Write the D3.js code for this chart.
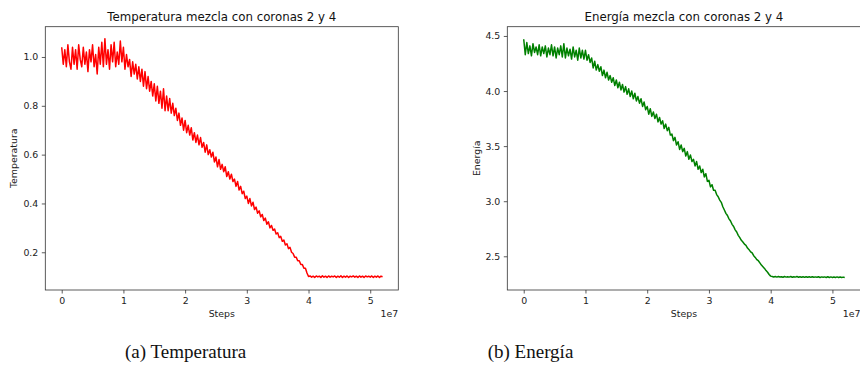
<!DOCTYPE html>
<html>
<head>
<meta charset="utf-8">
<script src="https://cdn.jsdelivr.net/npm/d3@7"></script>
<style>
  body { margin: 0; background: #fff; }
  svg { display: block; font-family: "DejaVu Sans", sans-serif; }
</style>
</head>
<body>
<svg id="fig" width="860" height="367"></svg>
<script>
// sample spacing of the simulation output (steps)
var sampleStep = 2.5e5;

var xTicks = [0, 1e7, 2e7, 3e7, 4e7, 5e7];
var xTickLabels = ["0", "1", "2", "3", "4", "5"];

var tempTicks = [0.2, 0.4, 0.6, 0.8, 1.0];
var energyTicks = [2.5, 3.0, 3.5, 4.0, 4.5];

var temperatura = [
  1.04, 0.97, 1.03, 0.96, 1.05, 0.98, 0.95, 1.04, 0.97, 1.03,
  0.95, 1.05, 0.99, 0.96, 1.04, 0.97, 1.02, 0.94, 1.03, 0.98,
  1.05, 0.96, 1.01, 0.93, 1.04, 0.97, 1.06, 0.96, 1.075, 0.97,
  1.03, 0.95, 1.05, 0.98, 1.06, 0.96, 1.02, 0.97, 1.065, 0.98,
  1.04, 0.95, 1.01, 0.96, 0.99, 0.92, 0.98, 0.93, 0.97, 0.91,
  0.96, 0.90, 0.95, 0.88, 0.94, 0.87, 0.92, 0.86, 0.90, 0.84,
  0.89, 0.82, 0.88, 0.81, 0.86, 0.79, 0.87, 0.78, 0.84, 0.78,
  0.83, 0.77, 0.81, 0.76, 0.79, 0.74, 0.77, 0.72, 0.75, 0.70,
  0.74, 0.69, 0.72, 0.68, 0.71, 0.66, 0.69, 0.65, 0.68, 0.64,
  0.67, 0.63, 0.65, 0.61, 0.64, 0.60, 0.62, 0.59, 0.61, 0.57,
  0.59, 0.55, 0.58, 0.54, 0.56, 0.53, 0.55, 0.51, 0.53, 0.50,
  0.52, 0.49, 0.50, 0.47, 0.49, 0.455, 0.47, 0.44, 0.45, 0.42,
  0.43, 0.40, 0.42, 0.39, 0.405, 0.375, 0.385, 0.36, 0.37, 0.345,
  0.355, 0.33, 0.34, 0.315, 0.325, 0.30, 0.31, 0.29, 0.295, 0.275,
  0.28, 0.26, 0.265, 0.245, 0.25, 0.23, 0.235, 0.215, 0.22, 0.20,
  0.195, 0.18, 0.18, 0.165, 0.165, 0.15, 0.15, 0.135, 0.135, 0.115,
  0.101,
  0.103, 0.098, 0.102, 0.097, 0.103, 0.099, 0.102, 0.097, 0.104, 0.098,
  0.102, 0.097, 0.103, 0.098, 0.102, 0.099, 0.103, 0.097, 0.102, 0.098,
  0.104, 0.097, 0.102, 0.098, 0.103, 0.097, 0.102, 0.099, 0.103, 0.098,
  0.102, 0.097, 0.103, 0.098, 0.102, 0.097, 0.103, 0.099, 0.102, 0.098,
  0.103, 0.097, 0.102, 0.098, 0.103, 0.097, 0.102, 0.100
];

var energia = [
  4.47, 4.33, 4.44, 4.34, 4.41, 4.32, 4.43, 4.35, 4.40, 4.33,
  4.42, 4.32, 4.40, 4.34, 4.41, 4.31, 4.39, 4.33, 4.42, 4.32,
  4.40, 4.30, 4.39, 4.33, 4.41, 4.31, 4.43, 4.30, 4.39, 4.32,
  4.38, 4.29, 4.40, 4.31, 4.37, 4.28, 4.39, 4.30, 4.37, 4.29,
  4.37, 4.28, 4.33, 4.26, 4.30, 4.21, 4.27, 4.19, 4.24, 4.18,
  4.22, 4.14, 4.19, 4.12, 4.17, 4.10, 4.14, 4.08, 4.12, 4.05,
  4.10, 4.03, 4.08, 4.01, 4.06, 3.99, 4.04, 3.97, 4.02, 3.95,
  4.00, 3.93, 3.98, 3.91, 3.95, 3.89, 3.93, 3.86, 3.90, 3.83,
  3.86, 3.79, 3.84, 3.77, 3.81, 3.75, 3.79, 3.72, 3.76, 3.70,
  3.73, 3.66, 3.70, 3.64, 3.67, 3.60, 3.61, 3.55, 3.58, 3.51,
  3.54, 3.47, 3.51, 3.45, 3.48, 3.41, 3.45, 3.38, 3.42, 3.36,
  3.38, 3.32, 3.36, 3.29, 3.32, 3.26, 3.29, 3.22, 3.25, 3.18,
  3.19, 3.13, 3.15, 3.10, 3.10, 3.06, 3.04, 3.01, 2.99, 2.95,
  2.92, 2.89, 2.87, 2.84, 2.82, 2.79, 2.77, 2.74, 2.72, 2.69,
  2.67, 2.645, 2.63, 2.61, 2.60, 2.575, 2.56, 2.54, 2.53, 2.505,
  2.49, 2.47, 2.46, 2.44, 2.42, 2.405, 2.39, 2.37, 2.355, 2.335,
  2.32,
  2.317, 2.312, 2.316, 2.311, 2.317, 2.312, 2.315, 2.310, 2.316, 2.311,
  2.315, 2.311, 2.316, 2.310, 2.315, 2.311, 2.317, 2.310, 2.314, 2.310,
  2.315, 2.309, 2.314, 2.310, 2.315, 2.309, 2.314, 2.309, 2.313, 2.309,
  2.314, 2.308, 2.313, 2.309, 2.313, 2.308, 2.314, 2.308, 2.313, 2.308,
  2.312, 2.308, 2.313, 2.307, 2.312, 2.307, 2.311, 2.308
];

var svg = d3.select('#fig');

function drawPanel(opts) {
    var x = d3.scaleLinear()
        .domain([-0.266e7, 5.455e7])
        .range([opts.left, opts.right]);
    var y = d3.scaleLinear()
        .domain(opts.yDomain)
        .range([290, 26.7]);

    var g = svg.append('g');

    var line = d3.line()
        .x(function(d, i) { return x(i * sampleStep); })
        .y(function(d) { return y(d); });

    g.append('path')
        .datum(opts.values)
        .attr('fill', 'none')
        .attr('stroke', opts.color)
        .attr('stroke-width', 1.5)
        .attr('stroke-linejoin', 'round')
        .attr('d', line);

    var xAxis = g.append('g')
        .attr('transform', 'translate(0,290)')
        .call(d3.axisBottom(x)
            .tickValues(xTicks)
            .tickFormat(function(d, i) { return xTickLabels[i]; })
            .tickSize(3.5)
            .tickPadding(3.5));
    var yAxis = g.append('g')
        .attr('transform', 'translate(' + opts.left + ',0)')
        .call(d3.axisLeft(y)
            .tickValues(opts.yTicks)
            .tickFormat(d3.format('.1f'))
            .tickSize(3.5)
            .tickPadding(3.5));

    [xAxis, yAxis].forEach(function(a) {
        a.select('.domain').remove();
        a.selectAll('line').attr('stroke', '#333').attr('stroke-width', 0.8);
        a.selectAll('text')
            .attr('fill', '#222')
            .style('font-family', '"DejaVu Sans", sans-serif')
            .style('font-size', '9.4px');
    });

    g.append('rect')
        .attr('x', opts.left)
        .attr('y', 26.7)
        .attr('width', opts.right - opts.left)
        .attr('height', 290 - 26.7)
        .attr('fill', 'none')
        .attr('stroke', '#333')
        .attr('stroke-width', 0.8);

    var cx = (opts.left + opts.right) / 2;

    g.append('text')
        .attr('x', cx)
        .attr('y', 21)
        .attr('text-anchor', 'middle')
        .style('font-size', '11.8px')
        .attr('fill', '#111')
        .text(opts.title);

    g.append('text')
        .attr('x', cx)
        .attr('y', 317)
        .attr('text-anchor', 'middle')
        .style('font-size', '9.4px')
        .attr('fill', '#222')
        .text('Steps');

    g.append('text')
        .attr('x', opts.right)
        .attr('y', 317)
        .attr('text-anchor', 'end')
        .style('font-size', '9.4px')
        .attr('fill', '#222')
        .text('1e7');

    g.append('text')
        .attr('transform', 'translate(' + opts.yLabelX + ',158.3) rotate(-90)')
        .attr('text-anchor', 'middle')
        .style('font-size', '9.4px')
        .attr('fill', '#222')
        .text(opts.yLabel);

    svg.append('text')
        .attr('x', opts.captionX)
        .attr('y', 358)
        .style('font-family', '"Liberation Serif", serif')
        .style('font-size', '19px')
        .attr('fill', '#111')
        .text(opts.caption);
}

drawPanel({
    left: 45.3, right: 398.3,
    yDomain: [0.0455, 1.124],
    yTicks: tempTicks,
    values: temperatura,
    color: '#ff0000',
    title: 'Temperatura mezcla con coronas 2 y 4',
    yLabel: 'Temperatura',
    yLabelX: 17,
    caption: '(a) Temperatura',
    captionX: 125
});

drawPanel({
    left: 507.3, right: 860.5,
    yDomain: [2.194, 4.584],
    yTicks: energyTicks,
    values: energia,
    color: '#008000',
    title: 'Energía mezcla con coronas 2 y 4',
    yLabel: 'Energía',
    yLabelX: 480,
    caption: '(b) Energía',
    captionX: 487.7
});
</script>
</body>
</html>
